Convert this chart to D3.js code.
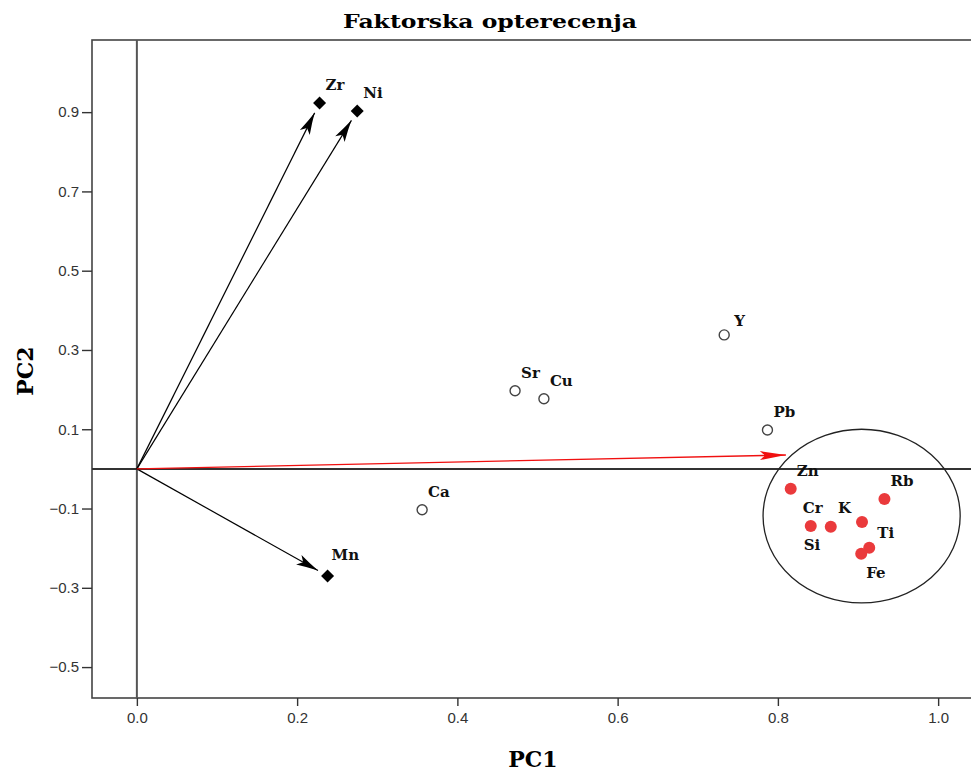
<!DOCTYPE html>
<html>
<head>
<meta charset="utf-8">
<script src="https://cdn.jsdelivr.net/npm/d3@7"></script>
<style>
  body { margin: 0; background: #fff; }
  svg { display: block; }
</style>
</head>
<body>
<svg id="chart" width="971" height="771"></svg>
<script>
// Loadings drawn as vectors from the origin (diamond markers)
const vectorNames = ["Zr", "Ni", "Mn"];
const vectorPC1 = [0.228, 0.275, 0.238];
const vectorPC2 = [0.923, 0.903, -0.270];

// Loadings drawn as open circles
const openNames = ["Sr", "Cu", "Y", "Pb", "Ca"];
const openPC1 = [0.472, 0.508, 0.733, 0.787, 0.356];
const openPC2 = [0.197, 0.177, 0.338, 0.098, -0.103];

// Clustered loadings (red dots inside the ellipse)
const clusterNames = ["Zn", "Rb", "Cr", "Si", "K", "Ti", "Fe"];
const clusterPC1 = [0.816, 0.933, 0.841, 0.866, 0.905, 0.914, 0.904];
const clusterPC2 = [-0.050, -0.076, -0.144, -0.146, -0.134, -0.199, -0.214];

// Red direction arrow end point and the cluster ellipse [cx, cy, rx, ry]
const redArrowEnd = [0.81, 0.035];
const clusterEllipse = [0.9045, -0.119, 0.123, 0.219];

// Axis ticks
const xTicks = [0.0, 0.2, 0.4, 0.6, 0.8, 1.0];
const yTicks = [-0.5, -0.3, -0.1, 0.1, 0.3, 0.5, 0.7, 0.9];

// Label placement (px offsets from the mark: left edge, baseline)
const defaultLabelOffset = [6, -13];
const labelOffsets = {
  Zr: [6, -13], Ni: [6, -13], Mn: [4, -16],
  Y: [10, -9], Cr: [-8, -13], Si: [-27, 23], K: [-24, -9],
  Ti: [8, -10], Fe: [5, 24]
};

const svg = d3.select("#chart");
const plotLeft = 92, plotRight = 975, plotTop = 40, plotBottom = 698;

const x = d3.scaleLinear().domain([-0.056, 1.046]).range([plotLeft, plotRight]);
const y = d3.scaleLinear().domain([-0.578, 1.082]).range([plotBottom, plotTop]);

const serif = "'DejaVu Serif', serif";
const sans = "'Liberation Sans', Arial, sans-serif";

// Title
svg.append("text")
  .attr("x", 490).attr("y", 28)
  .attr("text-anchor", "middle")
  .attr("font-family", serif).attr("font-weight", "bold").attr("font-size", 19)
  .attr("textLength", 294).attr("lengthAdjust", "spacingAndGlyphs")
  .text("Faktorska opterecenja");

// Plot frame
svg.append("rect")
  .attr("x", plotLeft).attr("y", plotTop)
  .attr("width", plotRight - plotLeft).attr("height", plotBottom - plotTop)
  .attr("fill", "none").attr("stroke", "#444").attr("stroke-width", 1.6);

// Zero reference lines
svg.append("line")
  .attr("x1", x(0)).attr("x2", x(0)).attr("y1", plotTop).attr("y2", plotBottom)
  .attr("stroke", "#555").attr("stroke-width", 2);
svg.append("line")
  .attr("x1", plotLeft).attr("x2", plotRight).attr("y1", y(0)).attr("y2", y(0))
  .attr("stroke", "#333").attr("stroke-width", 2);

// Axes
const xAxis = svg.append("g")
  .attr("transform", `translate(0,${plotBottom})`)
  .call(d3.axisBottom(x).tickValues(xTicks).tickFormat(d3.format(".1f")).tickSize(8).tickPadding(6));
xAxis.select(".domain").remove();
xAxis.selectAll("line").attr("stroke", "#333").attr("stroke-width", 1.4);
xAxis.selectAll("text")
  .attr("font-family", sans).attr("font-size", 15).attr("fill", "#333");

const yAxis = svg.append("g")
  .attr("transform", `translate(${plotLeft},0)`)
  .call(d3.axisLeft(y).tickValues(yTicks).tickFormat(d3.format(".1f")).tickSize(10).tickPadding(3));
yAxis.select(".domain").remove();
yAxis.selectAll("line").attr("stroke", "#333").attr("stroke-width", 1.4);
yAxis.selectAll("text")
  .attr("font-family", sans).attr("font-size", 15).attr("fill", "#333");

// Axis titles
svg.append("text")
  .attr("x", 533).attr("y", 767)
  .attr("text-anchor", "middle")
  .attr("font-family", serif).attr("font-weight", "bold").attr("font-size", 22)
  .text("PC1");
svg.append("text")
  .attr("transform", "translate(33,371) rotate(-90)")
  .attr("text-anchor", "middle")
  .attr("font-family", serif).attr("font-weight", "bold").attr("font-size", 22)
  .text("PC2");

// Arrowhead markers
const defs = svg.append("defs");
defs.append("marker")
  .attr("id", "headBlack")
  .attr("markerUnits", "userSpaceOnUse")
  .attr("viewBox", "-24 -7 26 14")
  .attr("refX", 0).attr("refY", 0)
  .attr("markerWidth", 26).attr("markerHeight", 14)
  .attr("orient", "auto")
  .append("path")
  .attr("d", "M0,0 Q-10,-2 -22,-5.5 L-17,0 L-22,5.5 Q-10,2 0,0 Z")
  .attr("fill", "#000");
defs.append("marker")
  .attr("id", "headRed")
  .attr("markerUnits", "userSpaceOnUse")
  .attr("viewBox", "-28 -6 30 12")
  .attr("refX", 0).attr("refY", 0)
  .attr("markerWidth", 30).attr("markerHeight", 12)
  .attr("orient", "auto")
  .append("path")
  .attr("d", "M0,0 L-26,-4.5 L-21,0 L-26,4.5 Z")
  .attr("fill", "#f01010");

// Vector arrows, stopping short of the diamond marker
const gap = 11;
const vectors = vectorNames.map((n, i) => ({ name: n, pc1: vectorPC1[i], pc2: vectorPC2[i] }));
svg.append("g").selectAll("line")
  .data(vectors)
  .join("line")
  .each(function (d) {
    const x0 = x(0), y0 = y(0), x1 = x(d.pc1), y1 = y(d.pc2);
    const len = Math.hypot(x1 - x0, y1 - y0);
    const t = (len - gap) / len;
    d3.select(this)
      .attr("x1", x0).attr("y1", y0)
      .attr("x2", x0 + (x1 - x0) * t).attr("y2", y0 + (y1 - y0) * t);
  })
  .attr("stroke", "#000").attr("stroke-width", 1.2)
  .attr("marker-end", "url(#headBlack)");

// Red direction arrow
svg.append("line")
  .attr("x1", x(0)).attr("y1", y(0))
  .attr("x2", x(redArrowEnd[0])).attr("y2", y(redArrowEnd[1]))
  .attr("stroke", "#f01010").attr("stroke-width", 1.3)
  .attr("marker-end", "url(#headRed)");

// Cluster ellipse
svg.append("ellipse")
  .attr("cx", x(clusterEllipse[0])).attr("cy", y(clusterEllipse[1]))
  .attr("rx", x(clusterEllipse[0] + clusterEllipse[2]) - x(clusterEllipse[0]))
  .attr("ry", y(clusterEllipse[1]) - y(clusterEllipse[1] + clusterEllipse[3]))
  .attr("fill", "none").attr("stroke", "#222").attr("stroke-width", 1.3);

// Diamond markers
svg.append("g").selectAll("path")
  .data(vectors)
  .join("path")
  .attr("transform", d => `translate(${x(d.pc1)},${y(d.pc2)})`)
  .attr("d", "M0,-6.5 L6.5,0 L0,6.5 L-6.5,0 Z")
  .attr("fill", "#000");

// Open circles
const opens = openNames.map((n, i) => ({ name: n, pc1: openPC1[i], pc2: openPC2[i] }));
svg.append("g").selectAll("circle")
  .data(opens)
  .join("circle")
  .attr("cx", d => x(d.pc1)).attr("cy", d => y(d.pc2))
  .attr("r", 5)
  .attr("fill", "#fff").attr("stroke", "#444").attr("stroke-width", 1.4);

// Red cluster dots
const cluster = clusterNames.map((n, i) => ({ name: n, pc1: clusterPC1[i], pc2: clusterPC2[i] }));
svg.append("g").selectAll("circle")
  .data(cluster)
  .join("circle")
  .attr("cx", d => x(d.pc1)).attr("cy", d => y(d.pc2))
  .attr("r", 6)
  .attr("fill", "#ea3a3c");

// Point labels
const allPoints = vectors.concat(opens, cluster);
svg.append("g").selectAll("text")
  .data(allPoints)
  .join("text")
  .attr("x", d => x(d.pc1) + (labelOffsets[d.name] || defaultLabelOffset)[0])
  .attr("y", d => y(d.pc2) + (labelOffsets[d.name] || defaultLabelOffset)[1])
  .attr("font-family", serif).attr("font-weight", "bold").attr("font-size", 15)
  .attr("fill", "#111")
  .text(d => d.name);
</script>
</body>
</html>
